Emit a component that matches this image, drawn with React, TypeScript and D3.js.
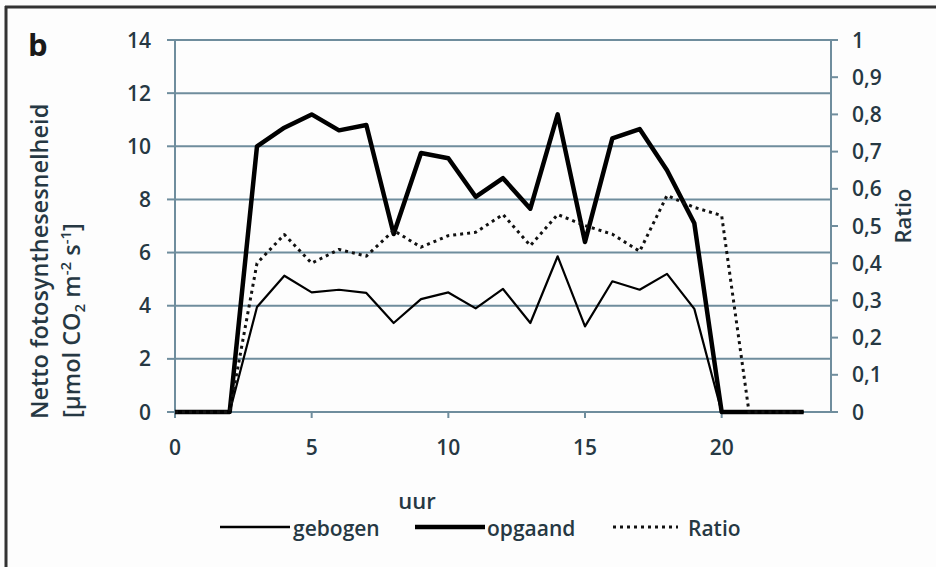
import React from "react";
import * as d3 from "d3";

const hours = [0,1,2,3,4,5,6,7,8,9,10,11,12,13,14,15,16,17,18,19,20,21,22,23];
const gebogen = [0,0,0,3.95,5.13,4.5,4.6,4.48,3.35,4.25,4.5,3.9,4.63,3.35,5.86,3.22,4.92,4.6,5.2,3.88,0,0,0,0];
const opgaand = [0,0,0,10.0,10.7,11.2,10.6,10.8,6.7,9.75,9.55,8.1,8.8,7.65,11.2,6.4,10.3,10.65,9.1,7.1,0,0,0,0];
const ratio = [0,0,0,0.40,0.477,0.40,0.437,0.419,0.488,0.443,0.474,0.483,0.531,0.447,0.531,0.501,0.478,0.432,0.582,0.55,0.528,0,0,0];

const leftTicks = [0,2,4,6,8,10,12,14];
const rightTicks = [0,0.1,0.2,0.3,0.4,0.5,0.6,0.7,0.8,0.9,1];
const xTicks = [0,5,10,15,20];

const W = 936, H = 567;
const FONT = "'Open Sans', 'Noto Sans', sans-serif";
const TXT = "#263843";
const GRID = "#6f8d9d";

export default function App() {
  const x = d3.scaleLinear().domain([0, 24]).range([175, 831]);
  const yL = d3.scaleLinear().domain([0, 14]).range([412, 40]);
  const yR = d3.scaleLinear().domain([0, 1]).range([412, 40]);

  const lineL = d3.line<number>().x((_, i) => x(hours[i])).y(d => yL(d));
  const lineR = d3.line<number>().x((_, i) => x(hours[i])).y(d => yR(d));
  const fmt = (v: number) => (v === 0 || v === 1 ? String(v) : v.toFixed(1).replace(".", ","));

  return (
    <svg width={W} height={H} style={{ position: "absolute", left: 0, top: 0, background: "#fdfdfd" }}
      fontFamily={FONT}>
      <rect x={0} y={0} width={W} height={H} fill="#fdfdfd" />
      {/* frame */}
      <line x1={6} x2={6} y1={6} y2={H} stroke="#333" strokeWidth={3} />
      <line x1={5} x2={W} y1={7} y2={7} stroke="#333" strokeWidth={3} />

      {/* gridlines */}
      {leftTicks.map(t => (
        <g key={"g" + t}>
          <line x1={x(0)} x2={x(24)} y1={yL(t)} y2={yL(t)} stroke={GRID} strokeWidth={2} />
          <line x1={167} x2={x(0)} y1={yL(t)} y2={yL(t)} stroke={GRID} strokeWidth={2} />
          <text x={151} y={yL(t)} dy="0.36em" textAnchor="end" fontSize={21} fontWeight={600} fill={TXT}>{t}</text>
        </g>
      ))}
      {/* left axis */}
      <line x1={x(0)} x2={x(0)} y1={yL(14)} y2={yL(0)} stroke={GRID} strokeWidth={2} />
      {/* right axis */}
      <line x1={x(24)} x2={x(24)} y1={yR(1)} y2={yR(0)} stroke={GRID} strokeWidth={2} />
      {rightTicks.map(t => (
        <g key={"r" + t}>
          <line x1={x(24)} x2={x(24) + 7} y1={yR(t)} y2={yR(t)} stroke={GRID} strokeWidth={2} />
          <text x={852} y={yR(t)} dy="0.36em" textAnchor="start" fontSize={21} fontWeight={600} fill={TXT}>{fmt(t)}</text>
        </g>
      ))}
      {/* x ticks */}
      {xTicks.map(t => (
        <g key={"x" + t}>
          <line x1={x(t)} x2={x(t)} y1={yL(0)} y2={yL(0) + 6} stroke={GRID} strokeWidth={2} />
          <text x={x(t)} y={455} textAnchor="middle" fontSize={21} fontWeight={600} fill={TXT}>{t}</text>
        </g>
      ))}

      {/* series */}
      <path d={lineL(gebogen) || ""} fill="none" stroke="#000" strokeWidth={2.2} strokeLinejoin="round" />
      <path d={lineL(opgaand) || ""} fill="none" stroke="#000" strokeWidth={4.5} strokeLinejoin="round" />
      <path d={lineR(ratio) || ""} fill="none" stroke="#111" strokeWidth={3} strokeDasharray="3 4" strokeLinejoin="round" />

      {/* titles */}
      <text x={28} y={56} fontSize={31} fontWeight={700} fill="#1a1a1a">b</text>
      <text transform="translate(48,419) rotate(-90)" textAnchor="start" fontSize={23.5} fontWeight={600} fill={TXT}>
        Netto fotosynthesesnelheid
      </text>
      <text transform="translate(80,418) rotate(-90)" textAnchor="start" fontSize={23.5} fontWeight={600} fill={TXT}>
        [µmol CO<tspan fontSize={15} dy="5">2</tspan><tspan dy="-5"> m</tspan><tspan fontSize={15} dy="-9">-2</tspan><tspan dy="9"> s</tspan><tspan fontSize={15} dy="-9">-1</tspan><tspan dy="9">]</tspan>
      </text>
      <text transform="translate(911,216) rotate(-90)" textAnchor="middle" fontSize={22} fontWeight={600} fill={TXT}>Ratio</text>
      <text x={417} y={509} textAnchor="middle" fontSize={22} fontWeight={600} fill={TXT}>uur</text>

      {/* legend */}
      <line x1={220} x2={290} y1={527} y2={527} stroke="#000" strokeWidth={2.5} />
      <text x={293} y={536} fontSize={21} fontWeight={600} fill={TXT}>gebogen</text>
      <line x1={415} x2={485} y1={527} y2={527} stroke="#000" strokeWidth={4.5} />
      <text x={487} y={536} fontSize={21} fontWeight={600} fill={TXT}>opgaand</text>
      <line x1={613} x2={678} y1={527} y2={527} stroke="#111" strokeWidth={3} strokeDasharray="3 4" />
      <text x={688} y={536} fontSize={21} fontWeight={600} fill={TXT}>Ratio</text>
    </svg>
  );
}
